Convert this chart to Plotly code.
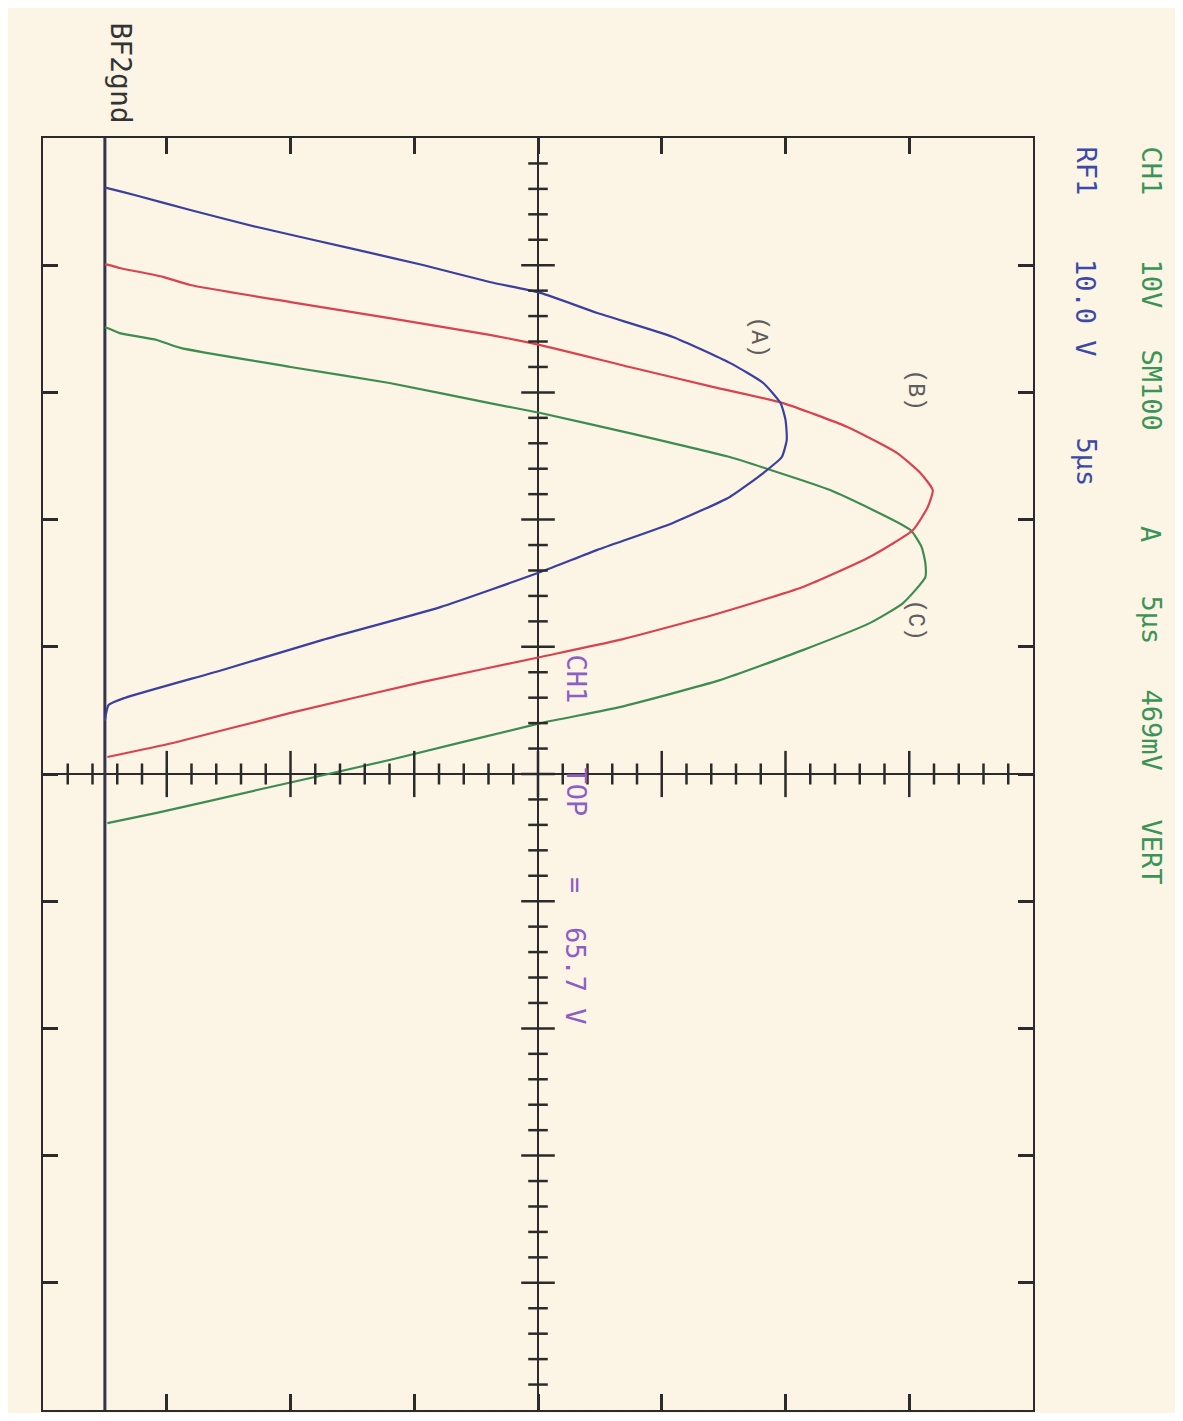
import plotly.graph_objects as go

# ---------------- data (time in µs, voltage in V) ----------------
time_A = [1.95, 1.97, 2.28, 2.83, 3.50, 4.40, 4.99, 5.66, 6.09, 6.88, 7.82, 8.84, 9.63,
          10.42, 11.08, 11.87, 12.54, 13.17, 14.11, 15.13, 16.19, 17.06, 18.44, 19.73,
          20.91, 22.01, 22.29, 22.9]
volt_A = [0, 0.2, 2.7, 6.9, 12.3, 20.4, 25.7, 31.1, 35.2, 39.8, 45.9, 50.5, 53.2,
          54.6, 55.0, 55.1, 54.7, 53.2, 50.5, 45.9, 39.8, 35.2, 27.1, 17.6,
          9.5, 1.6, 0.3, 0]

time_B = [4.97, 4.99, 5.11, 5.46, 5.78, 6.45, 7.08, 7.74, 8.14, 9.00, 9.79, 10.42,
          11.36, 12.38, 13.17, 13.84, 14.50, 15.41, 16.47, 17.65, 18.67, 19.73, 20.40,
          21.38, 22.60, 23.78, 24.33]
volt_B = [0, 0.3, 1.2, 4.7, 6.9, 15.0, 23.0, 31.1, 35.2, 42.4, 49.2, 54.8,
          60.0, 64.0, 65.9, 66.9, 66.5, 65.3, 61.8, 56.4, 49.7, 41.6, 35.2,
          25.7, 15.0, 5.5, 0.2]

time_C = [7.45, 7.47, 7.67, 7.94, 8.25, 9.00, 9.63, 10.42, 10.81, 11.60, 12.54, 13.05,
          13.84, 15.41, 16.08, 16.71, 17.26, 18.28, 19.07, 20.13, 21.31, 22.37, 23.00,
          24.45, 25.63, 26.53, 26.93]
volt_C = [0, 0.2, 1.2, 4.2, 6.1, 15.0, 23.0, 31.1, 35.2, 42.4, 50.5, 53.8,
          58.6, 65.1, 66.0, 66.3, 66.3, 64.5, 61.8, 56.4, 49.7, 41.6, 35.2,
          23.0, 12.3, 4.2, 0.2]

gnd_level = 0.0
volt_range = [-5, 75]     # 8 div x 10 V
time_range = [0, 50]      # 10 div x 5 µs
volt_div = 10
time_div = 5

# ---------------- figure geometry (page pixels) ----------------
OFF = 8                     # default body margin of the page
W, H = 1183 - 2 * OFF, 1421 - 2 * OFF
L, R, T, B = 43, 1033, 138, 1410   # plot frame in page coordinates
BG = "#fcf4e4"
INK = "#2b2b2b"

fig = go.Figure()

# ground line
fig.add_trace(go.Scatter(x=[gnd_level, gnd_level], y=time_range, mode="lines",
                         line=dict(color="#34344a", width=3), showlegend=False))

colors = {"C": "#3d8c50", "B": "#d8434f", "A": "#3b3f9e"}
for name, t, v in [("C", time_C, volt_C), ("B", time_B, volt_B), ("A", time_A, volt_A)]:
    fig.add_trace(go.Scatter(x=v, y=t, mode="lines", name=name,
                             line=dict(color=colors[name], width=2.2, shape="spline",
                                       smoothing=0.5),
                             showlegend=False))

# center cross lines
vc = (volt_range[0] + volt_range[1]) / 2
tc = (time_range[0] + time_range[1]) / 2
fig.add_shape(type="line", x0=volt_range[0], x1=volt_range[1], y0=tc, y1=tc,
              line=dict(color=INK, width=2), layer="below")
fig.add_shape(type="line", x0=vc, x1=vc, y0=time_range[0], y1=time_range[1],
              line=dict(color=INK, width=2), layer="below")

# minor / major ticks on the center lines
nv = int(round((volt_range[1] - volt_range[0]) / (volt_div / 5)))
vt = [volt_range[0] + k * volt_div / 5 for k in range(1, nv)]
vt_minor = [v for k, v in enumerate(vt, start=1) if k % 5 != 0]
vt_major = [v for k, v in enumerate(vt, start=1) if k % 5 == 0]
nt = int(round((time_range[1] - time_range[0]) / (time_div / 5)))
tt = [time_range[0] + k * time_div / 5 for k in range(1, nt)]
tt_minor = [t for k, t in enumerate(tt, start=1) if k % 5 != 0]
tt_major = [t for k, t in enumerate(tt, start=1) if k % 5 == 0]

fig.add_trace(go.Scatter(x=vt_minor, y=[tc] * len(vt_minor), mode="markers",
                         marker=dict(symbol="line-ns", size=15, line=dict(color=INK, width=2.5)),
                         showlegend=False, hoverinfo="skip"))
fig.add_trace(go.Scatter(x=vt_major, y=[tc] * len(vt_major), mode="markers",
                         marker=dict(symbol="line-ns", size=33, line=dict(color=INK, width=2.5)),
                         showlegend=False, hoverinfo="skip"))
fig.add_trace(go.Scatter(x=[vc] * len(tt_minor), y=tt_minor, mode="markers",
                         marker=dict(symbol="line-ew", size=14, line=dict(color=INK, width=2.5)),
                         showlegend=False, hoverinfo="skip"))
fig.add_trace(go.Scatter(x=[vc] * len(tt_major), y=tt_major, mode="markers",
                         marker=dict(symbol="line-ew", size=24, line=dict(color=INK, width=2.5)),
                         showlegend=False, hoverinfo="skip"))


def px2paper(px, py):
    return (px - L) / (R - L), (B - py) / (B - T)


def add_text(txt, px, py, color, size=26, family="DejaVu Sans Mono"):
    xp, yp = px2paper(px, py)
    fig.add_annotation(text=txt, x=xp, y=yp, xref="paper", yref="paper",
                       xanchor="center", yanchor="top", textangle=90, showarrow=False,
                       font=dict(family=family, size=size, color=color))


GREEN_T = "#3a9456"
BLUE_T = "#3a4aa8"
PURPLE_T = "#8c5ec6"

for w, y in [("CH1", 144), ("10V", 257), ("SM100", 347), ("A", 524), ("5µs", 593),
             ("469mV", 687), ("VERT", 817)]:
    add_text(w, 1151, y, GREEN_T, size=27)
for w, y in [("RF1", 144), ("10.0 V", 257), ("5µs", 435)]:
    add_text(w, 1086, y, BLUE_T, size=27)
for w, y in [("CH1", 652), ("TOP", 765), ("=", 875), ("65.7 V", 925)]:
    add_text(w, 576, y, PURPLE_T, size=27)
add_text("BF2gnd", 120, 20, "#333333", size=28)

for lab, px, py in [("(A)", 758, 314), ("(B)", 915, 367), ("(C)", 915, 597)]:
    add_text(lab, px, py, "#5e5e5e", size=23, family="Liberation Mono")

fig.update_xaxes(range=volt_range, showgrid=False, zeroline=False, showticklabels=False,
                 showline=True, linecolor=INK, linewidth=2, mirror="ticks",
                 ticks="inside", ticklen=16, tickwidth=2.5, tickcolor=INK,
                 tick0=volt_range[0], dtick=volt_div, fixedrange=True)
fig.update_yaxes(range=[time_range[1], time_range[0]], showgrid=False, zeroline=False,
                 showticklabels=False, showline=True, linecolor=INK, linewidth=2,
                 mirror="ticks", ticks="inside", ticklen=15, tickwidth=2.5, tickcolor=INK,
                 tick0=time_range[0], dtick=time_div, fixedrange=True)

fig.update_layout(width=W, height=H,
                  margin=dict(l=L - OFF, r=(W + OFF) - R, t=T - OFF, b=(H + OFF) - B),
                  paper_bgcolor=BG, plot_bgcolor=BG, showlegend=False)

fig.write_html("out.html")
